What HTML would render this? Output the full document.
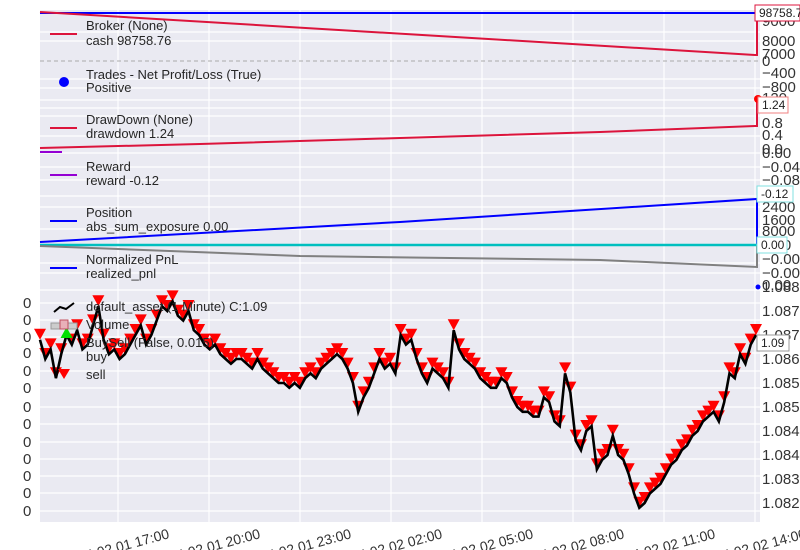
<!DOCTYPE html>
<html><head><meta charset="utf-8"><style>
html,body{margin:0;padding:0;background:#fff;width:800px;height:550px;overflow:hidden}
svg{display:block;font-family:"Liberation Sans",sans-serif}
</style></head><body>
<svg id="chart" width="800" height="550" viewBox="0 0 800 550">
<rect x="40" y="10" width="720" height="512" fill="#eaeaf2"/>
<g id="grid" stroke="#fff" stroke-width="1.2"></g>
<g id="upper"></g>
<g id="price"></g>
<g id="legends" font-size="13" fill="#262626"></g>
<g id="axes" font-size="15" fill="#333"></g>
</svg>
<script>
const prices=[1.0854,1.0850,1.0852,1.0846,1.0851,1.0855,1.0853,1.0856,1.0852,1.0853,1.0857,1.0861,1.0854,1.0851,1.0852,1.0850,1.0851,1.0853,1.0855,1.0857,1.0853,1.0855,1.0858,1.0861,1.0860,1.0862,1.0859,1.0858,1.0860,1.0856,1.0855,1.0853,1.0852,1.0853,1.0851,1.0850,1.0849,1.0850,1.0850,1.0849,1.0848,1.0850,1.0848,1.0847,1.0846,1.0845,1.0845,1.0844,1.0845,1.0844,1.0846,1.0847,1.0846,1.0848,1.0849,1.0850,1.0851,1.0850,1.0848,1.0845,1.0839,1.0842,1.0844,1.0847,1.0850,1.0848,1.0849,1.0847,1.0855,1.0853,1.0854,1.0850,1.0847,1.0845,1.0848,1.0847,1.0846,1.0844,1.0856,1.0852,1.0850,1.0849,1.0848,1.0846,1.0845,1.0844,1.0844,1.0846,1.0845,1.0842,1.0840,1.0839,1.0839,1.0838,1.0838,1.0842,1.0841,1.0837,1.0836,1.0847,1.0843,1.0833,1.0831,1.0835,1.0836,1.0827,1.0829,1.0830,1.0834,1.0830,1.0829,1.0826,1.0822,1.0819,1.0820,1.0822,1.0823,1.0824,1.0826,1.0828,1.0829,1.0831,1.0832,1.0834,1.0835,1.0837,1.0838,1.0839,1.0837,1.0841,1.0847,1.0846,1.0851,1.0849,1.0853,1.0855];
const priceTickValues=[1.0820,1.0825,1.0830,1.0835,1.0840,1.0845,1.0850,1.0855,1.0860,1.0865];
const priceTickLabels=["1.082","1.083","1.084","1.084","1.085","1.085","1.086","1.087","1.087","1.088"];
const timeLabels=["2024.02.01 17:00","2024.02.01 20:00","2024.02.01 23:00","2024.02.02 02:00","2024.02.02 05:00","2024.02.02 08:00","2024.02.02 11:00","2024.02.02 14:00"];
const buyIdx=[5];
const NS="http://www.w3.org/2000/svg";
function mk(tag,attrs,parent,txt){const e=document.createElementNS(NS,tag);for(const k in attrs)e.setAttribute(k,attrs[k]);if(txt!==undefined)e.textContent=txt;parent.appendChild(e);return e;}
const xS=i=>40+i*(716/(prices.length-1));
const yS=v=>503-(v-1.0820)/0.0005*24;
const tickX=i=>118+i*91;
const grid=document.getElementById('grid');
timeLabels.forEach((t,i)=>{const l=mk('line',{x1:tickX(i),x2:tickX(i),y1:10,y2:522},grid);

});
[13,32,41,79,88,100,108,116,136,153,167,180,196,207,229,245,263,273,290,303,320,337,353,371,388,407,424,442,459,476,493,511].forEach(y=>{const l=mk('line',{x1:40,x2:760,y1:y,y2:y},grid);

});
const up=document.getElementById('upper');
function pl(pts,attrs,name){const p=mk('polyline',Object.assign({points:pts,fill:'none'},attrs),up);

return p;}
pl("40,13 757,13",{stroke:'#0000ff','stroke-width':2},'value-line');
pl("40,12 755,55 757,55 757,13",{stroke:'#dc143c','stroke-width':2},'cash-line');
pl("40,61 760,61",{stroke:'#aaa','stroke-width':1,'stroke-dasharray':'4,3'},'trades-zero-line');
pl("40,148 200,144 400,138 600,132 755,126 757,126 757,100",{stroke:'#dc143c','stroke-width':2},'drawdown-line');
pl("40,152 62,152",{stroke:'#9400d3','stroke-width':2},'reward-line');
pl("40,242 400,222 757,199 757,245",{stroke:'#0000ff','stroke-width':2},'position-line');
pl("40,245 760,245",{stroke:'#00bfbf','stroke-width':2.5},'unrealized-zero-line');
pl("40,246 300,256 600,260 757,267 757,246",{stroke:'#808080','stroke-width':2},'pnl-line');
const dot=mk('circle',{cx:758,cy:287,r:2.5,fill:'#00f'},up);


const rd=mk('circle',{cx:758,cy:99,r:4,fill:'#f00'},up);


const pr=document.getElementById('price');
prices.forEach((v,i)=>{if(buyIdx.includes(i))return;const x=xS(i),y=yS(v)-5;
const t=mk('polygon',{points:`${x-6},${y-6} ${x+6},${y-6} ${x},${y+5}`,fill:'#ff0000'},pr);

});
const line=mk('polyline',{points:prices.map((v,i)=>xS(i)+','+yS(v)).join(' '),fill:'none',stroke:'#000','stroke-width':2.6},pr);


buyIdx.forEach(i=>{const x=xS(i),y=yS(prices[i])-2;
const b=mk('polygon',{points:`${x-6},${y+5} ${x+6},${y+5} ${x},${y-6}`,fill:'#00e000'},pr);

});
const lg=document.getElementById('legends');
const texts=[[86,30,"Broker (None)"],[86,45,"cash 98758.76"],[86,79,"Trades - Net Profit/Loss (True)"],[86,92,"Positive"],[86,124,"DrawDown (None)"],[86,138,"drawdown 1.24"],[86,171,"Reward"],[86,185,"reward -0.12"],[86,217,"Position"],[86,231,"abs_sum_exposure 0.00"],[86,264,"Normalized PnL"],[86,278,"realized_pnl"],[86,311,"default_asset (1 Minute) C:1.09"],[86,329,"Volume"],[86,347,"BuySell (False, 0.015)"],[86,361,"buy"],[86,379,"sell"]];
texts.forEach(t=>{const e=mk('text',{x:t[0],y:t[1]},lg,t[2]);

});
[[34,'#dc143c',"legend-cash-swatch"],[128,'#dc143c',"legend-drawdown-swatch"],[175,'#9400d3',"legend-reward-swatch"],[221,'#0000ff',"legend-position-swatch"],[268,'#0000ff',"legend-pnl-swatch"]].forEach(s=>{const l=mk('line',{x1:50,x2:77,y1:s[0],y2:s[0],stroke:s[1],'stroke-width':2},lg);

});
const c1=mk('circle',{cx:64,cy:82,r:5,fill:'#00f'},lg);


const sw=mk('polyline',{points:"54,312 60,307 66,309 74,303",fill:'none',stroke:'#000','stroke-width':2},lg);


const vs=mk('rect',{x:51,y:323,width:26,height:6,fill:'#ccc',stroke:'#999'},lg);


const vs2=mk('rect',{x:60,y:320,width:8,height:9,fill:'#e8b0b8',stroke:'#c05060'},lg);


const ls=mk('polygon',{points:"58,369 70,369 64,379",fill:'#f00'},lg);


const ax=document.getElementById('axes');
priceTickValues.forEach((v,i)=>{const e=mk('text',{x:762,y:yS(v)+5},ax,priceTickLabels[i]);

});
const rightLbls=["9000","8000","7000","0","−400","−800","120","0.8","0.4","0.0","0.00","−0.04","−0.08","12","2400","1600","8000","0.00","−0.00","−0.00","0.00"];
[21,41,54,61,73,87,98,123,135,149,153,167,180,193,207,220,231,245,259,273,285].forEach((y,i)=>{
const e=mk('text',{x:762,y:y+5},ax,rightLbls[i]);

});
[303,320,337,353,371,388,407,424,442,459,476,493,511].forEach(y=>{const e=mk('text',{x:23,y:y+5},ax,"0");

});
timeLabels.forEach((t,i)=>{const x=tickX(i)+52,y=538;
const e=mk('text',{x:x,y:y,'text-anchor':'end',transform:`rotate(-15 ${x} ${y})`,'font-size':14},ax,t);

});
[[755,5,45,"98758.7",'#dc143c'],[758,97,30,"1.24",'#f08080'],[757,186,36,"-0.12",'#80e0e0'],[757,237,30,"0.00",'#80e0e0'],[757,335,32,"1.09",'#999']].forEach(g=>{
const r=mk('rect',{x:g[0],y:g[1],width:g[2],height:16,fill:'#fff',stroke:g[4],'stroke-width':1},ax);


const e=mk('text',{x:g[0]+4,y:g[1]+12,'font-size':12,fill:'#222'},ax,g[3]);

});
</script>
</body></html>
